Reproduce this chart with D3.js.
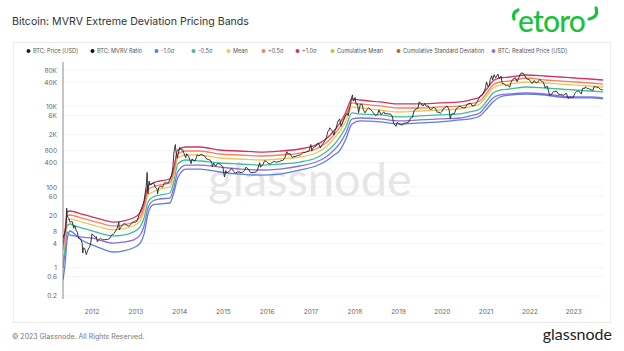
<!DOCTYPE html>
<html><head><meta charset="utf-8">
<script src="https://cdn.jsdelivr.net/npm/d3@7"></script>
<style>body{margin:0;background:#fff;} svg{display:block;font-family:Inter,"Open Sans",sans-serif;}</style>
</head><body><svg id="c" width="624" height="351"></svg>
<script>
const bandDates = ["2011-05-08","2011-05-27","2011-06-11","2011-07-05","2011-08-15","2011-10-13","2012-01-12","2012-04-06","2012-06-28","2012-09-20","2012-12-12","2013-02-09","2013-03-14","2013-04-16","2013-05-27","2013-07-23","2013-10-15","2013-11-17","2013-12-20","2014-02-26","2014-06-23","2014-12-06","2015-05-21","2015-11-05","2016-04-20","2016-10-04","2017-02-15","2017-05-10","2017-07-07","2017-09-04","2017-10-23","2017-12-13","2018-02-17","2018-08-03","2019-01-16","2019-07-01","2019-12-16","2020-05-31","2020-08-22","2020-11-13","2021-01-10","2021-03-03","2021-04-30","2021-07-20","2021-12-03","2022-05-11","2022-09-13","2023-01-19","2023-05-23","2023-09-07"];
const plusOneSigma = [3.63,9.6,24.0,25.4,24.0,21.4,18.0,15.2,13.5,14.3,17.0,22.7,40.1,106,126,141,158,296,828,984,984,828,782,738,782,877,1105,1555,2320,3880,7270,15300,14400,12900,11500,11500,12200,12900,14400,17100,27000,42700,50700,53600,60100,56800,53600,50700,47900,45200];
const plusHalfSigma = [2.73,7.6,19.1,20.2,19.1,17.0,14.3,12.1,10.8,11.4,13.5,18.0,31.9,84.3,100,112,126,236,659,782,782,659,622,588,622,697,877,1235,1845,3090,5790,12200,11500,10250,9140,9140,9680,10250,11500,13600,21500,33900,40300,42700,50700,45200,42700,40300,38100,35900];
const meanBand = [2.05,5.7,15.2,16.1,15.2,13.5,11.4,9.6,8.6,9.1,10.8,14.3,25.4,63.3,75.2,89.2,100,188,524,622,622,524,495,468,495,555,697,984,1470,2460,4350,9680,9140,8150,7270,7700,8150,8630,9680,11500,18100,28600,33900,35900,40300,38100,35900,33900,32100,30300];
const minusHalfSigma = [1.38,4.05,10.8,12.1,10.8,9.6,8.1,6.8,6.1,6.4,7.6,10.2,17.0,42.4,56.5,63.3,71.0,133,372,468,442,394,372,351,372,417,524,738,1040,1745,3090,6870,6490,6130,5470,5790,6130,6490,7270,8630,13600,21500,25500,27000,30300,28600,27000,25500,24100,22800];
const realizedPrice = [0.98,2.73,7.6,6.4,6.1,5.7,5.4,4.55,4.05,4.3,4.8,6.4,10.8,30.1,44.9,50.4,53.3,94.4,236,351,351,313,279,264,279,332,417,555,782,1235,2190,4880,5160,4880,4350,4610,4880,5160,5790,6870,10850,16200,19200,20300,21500,20300,18100,17100,17100,16200];
const minusOneSigma = [0.49,1.38,4.8,8.1,6.8,4.8,3.63,2.89,2.44,2.58,3.06,4.05,6.8,21.4,35.8,37.9,40.1,71.0,167,279,279,236,210,198,210,264,332,442,588,828,1555,3660,4350,4110,3660,3880,4110,4610,4880,5790,8630,12900,17100,19200,20300,19200,17100,16200,16200,15300];

const btcPrice = [["2011-05-10",5.5],["2011-05-20",7.0],["2011-06-01",9.6],["2011-06-05",16.5],["2011-06-08",29.6],["2011-06-12",19],["2011-06-19",17.5],["2011-06-26",16.5],["2011-07-05",13.5],["2011-07-15",13.8],["2011-07-25",13.7],["2011-08-05",9.5],["2011-08-15",11],["2011-08-25",8.5],["2011-09-05",7.5],["2011-09-15",5.3],["2011-09-25",5.2],["2011-10-05",4.9],["2011-10-15",4.0],["2011-10-20",2.3],["2011-10-25",3.1],["2011-11-05",3.0],["2011-11-18",2.1],["2011-11-25",2.4],["2011-12-05",2.9],["2011-12-15",3.2],["2011-12-25",4.0],
["2012-01-05",6.9],["2012-01-10",6.5],["2012-01-20",6.3],["2012-02-01",5.6],["2012-02-10",5.9],["2012-02-18",4.4],["2012-03-01",4.9],["2012-03-15",5.3],["2012-04-01",4.9],["2012-04-15",4.9],["2012-05-01",5.0],["2012-05-15",5.0],["2012-06-01",5.3],["2012-06-15",6.4],["2012-07-01",6.7],["2012-07-15",7.7],["2012-08-01",9.3],["2012-08-16",13.5],["2012-08-19",8.6],["2012-09-01",10.0],["2012-09-15",11.6],["2012-10-01",12.4],["2012-10-15",11.8],["2012-11-01",10.6],["2012-11-15",11.0],["2012-12-01",12.6],["2012-12-15",13.3],
["2013-01-01",13.4],["2013-01-15",14.3],["2013-02-01",20.5],["2013-02-15",27],["2013-03-01",34],["2013-03-15",47],["2013-03-25",75],["2013-04-01",104],["2013-04-09",230],["2013-04-12",90],["2013-04-16",68],["2013-04-25",140],["2013-05-01",116],["2013-05-15",114],["2013-06-01",129],["2013-06-15",100],["2013-07-01",88],["2013-07-05",68],["2013-07-15",98],["2013-08-01",105],["2013-08-15",98],["2013-09-01",127],["2013-09-15",127],["2013-10-01",125],["2013-10-15",150],["2013-11-01",205],["2013-11-10",320],["2013-11-18",700],["2013-11-30",1130],["2013-12-07",700],["2013-12-18",520],["2013-12-25",680],
["2014-01-05",960],["2014-01-15",850],["2014-02-01",830],["2014-02-15",620],["2014-02-25",530],["2014-03-05",670],["2014-03-20",580],["2014-04-01",460],["2014-04-10",380],["2014-04-20",500],["2014-05-01",450],["2014-05-15",445],["2014-06-01",630],["2014-06-15",590],["2014-07-01",640],["2014-07-15",620],["2014-08-01",590],["2014-08-15",500],["2014-09-01",480],["2014-09-15",470],["2014-10-01",385],["2014-10-05",320],["2014-10-15",395],["2014-11-01",325],["2014-11-15",380],["2014-12-01",380],["2014-12-15",350],
["2015-01-01",315],["2015-01-14",178],["2015-01-25",255],["2015-02-01",225],["2015-02-15",235],["2015-03-01",260],["2015-03-15",285],["2015-04-01",245],["2015-04-15",220],["2015-05-01",235],["2015-05-15",237],["2015-06-01",225],["2015-06-15",235],["2015-07-01",257],["2015-07-12",310],["2015-08-01",280],["2015-08-18",230],["2015-09-01",229],["2015-09-15",230],["2015-10-01",237],["2015-10-15",255],["2015-11-04",400],["2015-11-11",310],["2015-12-01",360],["2015-12-15",450],
["2016-01-01",430],["2016-01-15",380],["2016-02-01",375],["2016-02-15",405],["2016-03-01",430],["2016-03-15",415],["2016-04-01",418],["2016-04-15",430],["2016-05-01",450],["2016-05-15",455],["2016-06-01",530],["2016-06-17",760],["2016-06-25",665],["2016-07-15",665],["2016-08-02",540],["2016-08-15",570],["2016-09-01",575],["2016-09-15",610],["2016-10-01",615],["2016-10-15",640],["2016-11-01",730],["2016-11-15",715],["2016-12-01",755],["2016-12-20",790],
["2017-01-04",1130],["2017-01-11",780],["2017-01-20",900],["2017-02-01",990],["2017-02-15",1010],["2017-03-01",1220],["2017-03-10",1190],["2017-03-24",930],["2017-04-01",1080],["2017-04-15",1180],["2017-05-01",1420],["2017-05-15",1750],["2017-05-25",2400],["2017-06-01",2450],["2017-06-11",2950],["2017-06-20",2700],["2017-07-01",2450],["2017-07-16",1930],["2017-07-25",2570],["2017-08-01",2740],["2017-08-15",4100],["2017-09-01",4900],["2017-09-14",3200],["2017-09-25",3900],["2017-10-01",4400],["2017-10-15",5700],["2017-11-01",6700],["2017-11-12",5900],["2017-11-20",8200],["2017-12-01",10900],["2017-12-08",16000],["2017-12-17",19300],["2017-12-22",13800],["2017-12-31",13900],
["2018-01-07",16500],["2018-01-17",11200],["2018-01-28",11500],["2018-02-06",7000],["2018-02-20",11200],["2018-03-05",11500],["2018-03-18",8200],["2018-04-01",6900],["2018-04-15",8300],["2018-05-01",9200],["2018-05-15",8500],["2018-06-01",7500],["2018-06-15",6500],["2018-06-28",5900],["2018-07-15",6400],["2018-07-25",8200],["2018-08-10",6300],["2018-08-25",6700],["2018-09-05",7400],["2018-09-15",6500],["2018-10-01",6600],["2018-10-15",6500],["2018-11-01",6400],["2018-11-15",5600],["2018-11-25",3800],["2018-12-15",3200],["2018-12-25",4000],
["2019-01-05",3800],["2019-01-20",3550],["2019-02-05",3450],["2019-02-25",3850],["2019-03-15",3900],["2019-04-01",4100],["2019-04-15",5100],["2019-05-01",5350],["2019-05-15",7900],["2019-06-01",8600],["2019-06-15",8800],["2019-06-26",12900],["2019-07-10",12100],["2019-07-20",10600],["2019-08-01",10400],["2019-08-10",11900],["2019-08-25",10100],["2019-09-10",10300],["2019-09-25",8400],["2019-10-10",8600],["2019-10-26",9550],["2019-11-10",8800],["2019-11-25",7100],["2019-12-10",7250],["2019-12-18",6640],["2019-12-30",7200],
["2020-01-15",8800],["2020-02-01",9400],["2020-02-13",10300],["2020-03-01",8550],["2020-03-12",4900],["2020-03-20",6200],["2020-04-01",6600],["2020-04-15",6650],["2020-05-01",8800],["2020-05-15",9400],["2020-06-01",10200],["2020-06-15",9450],["2020-07-01",9200],["2020-07-15",9200],["2020-07-28",11000],["2020-08-15",11800],["2020-09-01",11900],["2020-09-10",10300],["2020-10-01",10600],["2020-10-21",12800],["2020-11-05",15500],["2020-11-20",18600],["2020-12-01",18900],["2020-12-17",22800],["2020-12-31",29000],
["2021-01-08",40700],["2021-01-22",30800],["2021-02-01",33500],["2021-02-08",46500],["2021-02-21",57500],["2021-02-28",45200],["2021-03-13",61100],["2021-03-25",51300],["2021-04-13",63500],["2021-04-25",49000],["2021-05-10",56500],["2021-05-19",37000],["2021-06-01",36700],["2021-06-22",32500],["2021-07-05",33700],["2021-07-20",29800],["2021-08-01",39800],["2021-08-15",47000],["2021-09-06",51700],["2021-09-21",40700],["2021-10-05",51500],["2021-10-20",66000],["2021-11-08",67500],["2021-11-25",57000],["2021-12-04",49300],["2021-12-20",46700],["2021-12-31",46300],
["2022-01-10",41800],["2022-01-24",36700],["2022-02-10",43900],["2022-02-24",38300],["2022-03-10",39300],["2022-03-28",47100],["2022-04-10",42200],["2022-04-28",39700],["2022-05-12",29000],["2022-05-30",31800],["2022-06-18",19000],["2022-07-01",19300],["2022-07-20",23200],["2022-08-01",23300],["2022-08-14",24300],["2022-09-01",20100],["2022-09-15",19700],["2022-10-01",19300],["2022-10-15",19100],["2022-11-05",21300],["2022-11-21",15800],["2022-12-05",17100],["2022-12-20",16800],
["2023-01-01",16600],["2023-01-15",20900],["2023-02-01",23700],["2023-02-15",24300],["2023-03-10",20200],["2023-03-20",28000],["2023-04-10",28300],["2023-04-14",30500],["2023-04-25",28300],["2023-05-10",27600],["2023-05-25",26300],["2023-06-15",25000],["2023-06-23",30700],["2023-07-05",30500],["2023-07-15",30300],["2023-08-01",29200],["2023-08-17",26600],["2023-09-01",25900],["2023-09-07",25700]];

const yTickValues = [0.2,0.6,1,4,8,20,60,100,400,800,2000,6000,10000,40000,80000];
const yTickLabels = ["0.2","0.6","1","4","8","20","60","100","400","800","2K","6K","10K","40K","80K"];
const xTickYears = [2012,2013,2014,2015,2016,2017,2018,2019,2020,2021,2022,2023];
const legendLabels = ["BTC: Price [USD]","BTC: MVRV Ratio","-1.0σ","-0.5σ","Mean","+0.5σ","+1.0σ","Cumulative Mean","Cumulative Standard Deviation","BTC: Realized Price [USD]"];
const legendColors = ["#222222","#111111","#5b7fe0","#3cc09c","#f3c45a","#f2845c","#dc2f5e","#a9d13c","#a8721c","#8a7be3"];
const legendX = [26,90,154,191,226,261,295,330,396,491];

const svg = d3.select('#c');
const parse = d3.timeParse('%Y-%m-%d');
const x = d3.scaleTime().domain([parse('2011-05-08'), parse('2023-09-07')]).range([63, 603]);
const y = d3.scaleLog().domain([0.2, 80000]).range([295.8, 70]);

// panel
svg.append('rect').attr('x',13.5).attr('y',42.5).attr('width',597).attr('height',280)
  .attr('fill','#fff').attr('stroke','#ebebeb');

// title
svg.append('text').attr('x',12).attr('y',25).attr('font-size',10.6).attr('fill','#333')
  .text('Bitcoin: MVRV Extreme Deviation Pricing Bands');

// eToro logo
const logo = svg.append('g');
logo.append('text').attr('x',518).attr('y',32).attr('font-size',30).attr('font-weight',500)
  .attr('font-family','Lato, "Open Sans", sans-serif').attr('fill','#19c23a').attr('letter-spacing',-0.8).text('etoro');
logo.append('path').attr('d','M518,10 Q512,13 514,19').attr('stroke','#19c23a').attr('stroke-width',3.2).attr('fill','none').attr('stroke-linecap','round');
logo.append('path').attr('d','M596,8 Q599,17 589,19').attr('stroke','#19c23a').attr('stroke-width',3.2).attr('fill','none').attr('stroke-linecap','round');

// legend
const lg = svg.append('g');
legendLabels.forEach((l,i)=>{
  lg.append('circle').attr('cx',legendX[i]+2.5).attr('cy',51).attr('r',2).attr('fill',legendColors[i]);
  lg.append('text').attr('x',legendX[i]+7).attr('y',53).attr('font-size',5.6).attr('fill','#555').text(l);
});

// gridlines
svg.append('g').selectAll('line').data(yTickValues).join('line')
  .attr('x1',63).attr('x2',603).attr('y1',d=>y(d)).attr('y2',d=>y(d))
  .attr('stroke','#f1f1f1').attr('stroke-width',0.8);

// watermark
svg.append('text').attr('x',310).attr('y',196).attr('text-anchor','middle')
  .attr('font-size',47).attr('font-family','Lato, "Open Sans", sans-serif').attr('fill','#e6e6e6').text('glassnode');

// y axis
const ya = svg.append('g').attr('transform','translate(63,0)')
  .call(d3.axisLeft(y).tickValues(yTickValues).tickFormat((d,i)=>yTickLabels[i]).tickSize(0).tickPadding(6));
ya.select('.domain').remove();
ya.selectAll('text').attr('font-size',6.5).attr('fill','#666').attr('font-family','Inter, sans-serif');
svg.append('line').attr('x1',63).attr('x2',63).attr('y1',62).attr('y2',299).attr('stroke','#8a8a8a').attr('stroke-width',1);

// x axis
const xa = svg.append('g').attr('transform','translate(0,305)')
  .call(d3.axisBottom(x).tickValues(xTickYears.map(yr=>new Date(yr,0,1))).tickFormat(d3.timeFormat('%Y')).tickSize(0).tickPadding(4));
xa.select('.domain').remove();
xa.selectAll('text').attr('font-size',6.5).attr('fill','#666').attr('font-family','Inter, sans-serif');

// clip
svg.append('clipPath').attr('id','clip').append('rect').attr('x',63).attr('y',60).attr('width',542).attr('height',240);
const plot = svg.append('g').attr('clip-path','url(#clip)');

const bandLine = d3.line().x(d=>x(d[0])).y(d=>y(d[1])).curve(d3.curveMonotoneX);
const bands = [
  [minusOneSigma,'#5b7fe0'],
  [realizedPrice,'#8a6fdc'],
  [minusHalfSigma,'#3cc09c'],
  [meanBand,'#f3c45a'],
  [plusHalfSigma,'#f2845c'],
  [plusOneSigma,'#dc2f5e']
];
bands.forEach(([vals,col])=>{
  const data = bandDates.map((d,i)=>[parse(d),vals[i]]);
  plot.append('path').datum(data).attr('d',bandLine).attr('fill','none').attr('stroke',col).attr('stroke-width',1.3);
});

const priceLine = d3.line().x(d=>x(parse(d[0]))).y(d=>y(d[1]));
plot.append('path').datum(btcPrice).attr('d',priceLine).attr('fill','none').attr('stroke','#222').attr('stroke-width',0.9);

// footer
svg.append('text').attr('x',12).attr('y',339).attr('font-size',7).attr('fill','#777').text('© 2023 Glassnode. All Rights Reserved.');
svg.append('text').attr('x',612).attr('y',340).attr('text-anchor','end').attr('font-size',16)
  .attr('font-family','Lato, "Open Sans", sans-serif').attr('fill','#222').text('glassnode');
</script></body></html>
